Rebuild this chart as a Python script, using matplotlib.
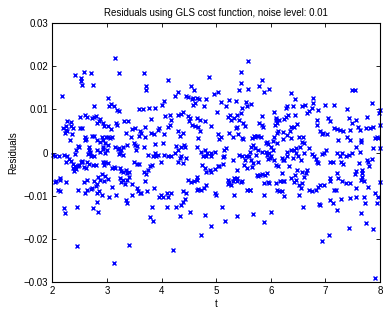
#!/usr/bin/env python3
import numpy as np
import matplotlib
matplotlib.use("Agg")
import matplotlib.pyplot as plt

plt.rcParams["font.family"] = ["Liberation Sans", "DejaVu Sans"]

title = "Residuals using GLS cost function, noise level: 0.01"
x_label = "t"
y_label = "Residuals"
x_ticks = [2, 3, 4, 5, 6, 7, 8]
y_ticks = [-0.03, -0.02, -0.01, 0, 0.01, 0.02, 0.03]
y_tick_labels = ["\u22120.03", "\u22120.02", "\u22120.01", "0", "0.01", "0.02", "0.03"]

# (t, residual * 1000), one list per unit of t
res_2_3 = [
    (2.18, 13.0), (2.41, 17.9), (2.57, 18.6), (2.52, 17.2), (2.53, 16.6), (2.55, 15.6),
    (2.71, 18.4), (2.74, 15.6), (2.77, 10.7), (2.51, 8.3), (2.59, 8.6), (2.63, 8.2),
    (2.51, 5.7), (2.54, 5.6), (2.27, 7.3), (2.34, 7.1), (2.24, 6.2), (2.20, 5.6),
    (2.25, 5.3), (2.34, 6.2), (2.35, 4.3), (2.32, 2.8), (2.23, 4.6), (2.72, 8.0),
    (2.76, 8.3), (2.79, 8.5), (2.85, 7.4), (2.88, 7.7), (2.92, 6.8), (2.82, 6.8),
    (2.95, 6.2), (2.60, 3.7), (2.62, 3.2), (2.59, 2.9), (2.73, 3.9), (2.81, 2.8),
    (2.46, 1.5), (2.48, 1.2), (2.43, 0.6), (2.41, -0.3), (2.90, 3.6), (2.93, 2.9),
    (2.98, 3.7), (2.87, 2.5), (2.96, 2.2), (2.92, 1.4), (2.67, 1.4), (2.67, 0.6),
    (2.69, 0.0), (2.65, -0.3), (2.71, -0.8), (2.77, -0.9), (2.82, 0.5), (2.88, 0.2),
    (2.93, 0.8), (2.96, -0.2), (2.01, -0.6), (2.05, -0.9), (2.12, -0.8), (2.27, -0.9),
    (2.31, -1.4), (2.34, -1.9), (2.25, -2.1), (2.38, -2.6), (2.41, -3.1), (2.37, -3.6),
    (2.40, -4.3), (2.43, -3.9), (2.46, -3.2), (2.48, -2.8), (2.52, -2.3), (2.55, -1.9),
    (2.57, -3.4), (2.61, -3.6), (2.64, -2.3), (2.67, -2.6), (2.75, -2.9), (2.93, -2.3),
    (2.95, -2.9), (2.91, -4.9), (2.96, -5.4), (2.95, -6.7), (2.84, -5.6), (2.88, -6.3),
    (2.76, -6.6), (2.64, -6.3), (2.58, -6.8), (2.04, -6.9), (2.07, -6.7), (2.13, -6.3),
    (2.14, -6.0), (2.10, -8.6), (2.14, -9.0), (2.46, -8.6), (2.59, -9.4), (2.63, -8.6),
    (2.70, -8.5), (2.79, -7.7), (2.82, -7.3), (2.85, -9.0), (2.91, -9.8), (2.81, -11.4),
    (2.82, -9.4), (2.45, -12.7), (2.21, -12.9), (2.23, -14.1), (2.74, -12.9),
    (2.84, -13.7), (2.45, -21.6),
    (2.37, 5.6), (2.27, 5.0), (2.76, 3.8), (2.21, -0.6), (2.68, 0.2), (2.55, -2.1),
    (2.79, -2.9), (2.24, -6.8), (2.73, -8.3),
]
res_3_4 = [
    (3.15, 21.9), (3.21, 18.4), (3.67, 18.4), (3.72, 15.4), (3.72, 14.5), (3.02, 12.6),
    (3.08, 11.2), (3.03, 10.7), (3.13, 10.7), (3.18, 9.9), (3.22, 9.6), (3.58, 10.0),
    (3.66, 10.0), (3.77, 10.3), (3.87, 10.3), (3.17, 6.8), (3.19, 6.3), (3.01, 6.2),
    (3.07, 5.4), (3.01, 3.7), (3.05, 3.4), (3.09, 3.6), (3.31, 7.3), (3.38, 7.2),
    (3.35, 4.5), (3.43, 3.7), (3.45, 5.4), (3.51, 5.6), (3.58, 3.9), (3.63, 4.5),
    (3.60, 5.1), (3.69, 6.0), (3.70, 3.5), (3.80, 7.8), (3.81, 4.6), (3.86, 4.3),
    (3.93, 5.3), (3.96, 5.7), (3.87, 2.0), (3.01, 1.8), (2.99, 0.6), (3.14, 1.4),
    (3.20, 0.8), (3.26, 0.6), (3.23, 0.0), (3.29, 1.4), (3.37, 1.7), (3.21, -0.3),
    (3.29, -0.6), (3.49, 2.2), (3.52, 1.8), (3.55, 1.5), (3.53, 0.6), (3.87, -0.2),
    (3.90, -0.9), (3.93, -0.6), (3.68, 1.2), (3.75, -0.6), (3.84, -0.9), (2.96, -2.1),
    (3.01, -2.5), (3.09, -3.6), (3.14, -3.6), (3.24, -3.6), (3.26, -4.2), (3.29, -4.4),
    (3.34, -4.0), (3.37, -4.8), (3.41, -4.4), (3.49, -2.2), (3.55, -2.6), (3.59, -2.6),
    (3.68, -4.6), (3.72, -4.9), (3.75, -4.0), (3.78, -3.2), (3.82, -2.9), (3.99, -2.2),
    (3.02, -6.2), (3.09, -7.9), (3.23, -5.9), (3.26, -6.9), (3.29, -6.3), (3.32, -7.3),
    (3.37, -6.3), (3.41, -5.6), (3.46, -7.3), (3.54, -8.3), (3.57, -9.0), (3.60, -9.3),
    (3.63, -9.3), (3.69, -6.7), (3.74, -9.0), (3.86, -8.3), (3.99, -9.8), (3.95, -10.2),
    (3.04, -10.2), (3.17, -9.8), (3.35, -11.0), (3.37, -11.7), (3.45, -9.8),
    (3.82, -12.7), (3.78, -15.0), (3.85, -15.8), (3.41, -21.4), (3.12, -25.5),
    (3.22, 1.0), (3.13, -3.4),
]
res_4_5 = [
    (4.12, 16.8), (4.01, 10.9), (4.04, 12.0), (4.04, 4.3), (4.07, 8.5), (4.15, 8.7),
    (4.18, 7.6), (4.12, 6.0), (4.15, 6.4), (4.02, 2.3), (4.05, -0.6), (4.12, -0.9),
    (4.18, -0.8), (4.02, -10.2), (4.09, -9.4), (4.12, -10.2), (4.18, -9.4),
    (4.09, -12.5), (4.21, -22.5),
    (4.87, 17.5), (4.54, 15.4), (4.60, 14.5), (4.30, 14.1), (4.24, 13.1), (4.44, 13.1),
    (4.48, 12.8), (4.55, 12.4), (4.58, 12.6), (4.64, 12.6), (4.69, 12.4), (4.82, 12.4),
    (4.57, 11.0), (4.61, 11.4), (4.77, 10.8), (4.96, 13.6), (4.30, 8.7), (4.36, 9.0),
    (4.39, 9.5), (4.48, 8.5), (4.52, 8.0), (4.64, 8.0), (4.70, 7.6), (4.50, 7.2),
    (4.56, 6.4), (4.61, 6.2), (4.67, 5.9), (4.79, 7.2), (4.70, 4.9), (4.67, 3.3),
    (4.30, 4.9), (4.33, 3.9), (4.40, 4.6), (4.91, 6.2), (4.27, 1.5), (4.35, 1.4),
    (4.41, 1.8), (4.43, 1.2), (4.30, 0.6), (4.24, -0.2), (4.33, -1.3), (4.36, -0.8),
    (4.30, -2.1), (4.39, -2.5), (4.45, -1.3), (4.65, 1.2), (4.73, 0.2), (4.79, 0.5),
    (4.84, 0.0), (4.91, 0.0), (4.97, 0.2), (4.90, -0.9), (4.82, -0.9), (4.76, -0.8),
    (4.74, -2.9), (4.79, -3.6), (4.82, -4.4), (4.88, -4.0), (4.91, -4.4), (4.97, -3.9),
    (4.65, -5.6), (4.64, -6.3), (4.48, -6.3), (4.54, -6.9), (4.59, -6.5), (4.67, -8.5),
    (4.73, -8.6), (4.77, -8.3), (4.82, -7.5), (4.64, -8.6), (4.39, -9.0), (4.45, -9.4),
    (4.42, -10.8), (4.97, -9.4), (4.27, -12.5), (4.35, -12.1), (4.39, -11.4),
    (4.52, -13.7), (4.33, -14.7), (4.79, -14.4), (4.90, -17.0), (4.72, -19.1),
]
res_5_6 = [
    (5.03, 14.1), (5.08, 11.6), (5.18, 10.8), (5.24, 12.2), (5.01, 9.5), (5.04, 4.3),
    (5.08, 3.7), (5.06, 3.1), (5.21, 8.3), (5.26, 8.6), (5.27, 7.6), (5.24, 4.5),
    (5.30, 3.7), (5.03, -3.2), (5.06, -3.1), (5.12, -1.1), (5.15, -0.8), (5.14, 0.6),
    (5.18, 1.0), (5.12, -2.6), (5.21, -6.3), (5.24, -6.9), (5.21, -7.3), (5.27, -7.5),
    (5.30, -6.7), (5.00, -9.8), (5.10, -12.5), (5.17, -15.8),
    (5.59, 21.2), (5.45, 18.6), (5.46, 16.1), (5.41, 14.5), (5.59, 14.7), (5.79, 15.3),
    (5.83, 16.7), (5.87, 14.1), (5.97, 14.7), (5.36, 12.0), (5.55, 11.8), (5.57, 10.7),
    (5.63, 11.3), (5.48, 10.3), (5.45, 9.1), (5.39, 8.7), (5.33, 8.0), (5.42, 7.6),
    (5.83, 8.5), (5.79, 6.9), (5.83, 6.4), (5.38, 6.0), (5.40, 4.3), (5.36, 5.6),
    (5.52, 6.2), (5.47, 3.3), (5.66, 3.3), (5.70, 3.9), (5.74, 3.9), (5.77, 3.9),
    (5.82, 3.6), (5.63, 1.4), (5.68, 1.8), (5.71, 1.0), (5.76, 0.6), (5.93, 2.5),
    (5.95, 1.9), (5.42, -0.5), (5.48, -0.8), (5.54, -0.9), (5.60, -0.9), (5.63, -1.7),
    (5.73, -0.5), (5.76, -2.1), (5.51, -2.9), (5.65, -3.4), (5.57, -3.6), (5.91, 0.2),
    (5.93, -0.5), (5.97, -0.2), (5.94, -1.5), (5.39, -4.0), (5.33, -5.9), (5.39, -6.7),
    (5.45, -6.9), (5.48, -6.5), (5.39, -5.9), (5.76, -5.4), (5.80, -5.2), (5.84, -4.9),
    (5.93, -4.8), (5.88, -7.1), (5.94, -6.9), (5.97, -7.1), (5.57, -8.6), (5.62, -8.6),
    (5.33, -9.8), (5.88, -9.8), (5.38, -14.8), (5.68, -14.2), (5.88, -16.1),
    (5.49, 6.8), (5.49, 3.1), (5.71, 3.7), (5.92, 2.1), (5.62, 0.2), (5.83, 0.2),
    (5.31, -1.7), (5.52, -1.7), (5.68, -2.5), (5.98, -1.2), (5.74, -5.2), (5.89, -5.2),
    (5.62, -8.7), (5.86, 6.0),
]
res_6_7 = [
    (6.37, 13.9), (6.06, 9.5), (6.09, 7.6), (6.12, 6.8), (6.15, 7.6), (6.24, 7.7),
    (6.27, 8.3), (6.30, 10.7), (6.27, 10.3), (6.37, 6.0), (6.00, 1.4), (6.06, 3.7),
    (6.12, 2.3), (6.14, 4.9), (6.11, 4.5), (6.23, 3.1), (6.30, 4.1), (6.37, 3.3),
    (6.00, -0.9), (6.06, -1.7), (6.09, -2.9), (6.13, -3.1), (6.21, -1.3), (6.24, -1.7),
    (6.30, -0.9), (6.37, 0.6), (6.40, -1.3), (6.34, -3.2), (6.09, -7.1), (6.17, -6.5),
    (6.20, -4.8), (6.24, -6.5), (6.37, -5.9), (6.11, -8.6), (6.15, -9.0), (6.24, -10.0),
    (6.01, -13.7),
    (6.45, 12.4), (6.41, 10.7), (6.57, 10.7), (6.62, 11.0), (6.77, 12.7), (6.77, 11.4),
    (6.70, 9.7), (6.66, 9.1), (6.75, 10.3), (6.87, 9.9), (6.45, 8.7), (6.48, 6.6),
    (6.42, 6.0), (6.51, 3.7), (6.57, 2.5), (6.60, 2.2), (6.54, 1.4), (6.85, 7.6),
    (6.84, 6.4), (6.90, 4.9), (6.93, 4.3), (6.96, 4.6), (6.43, 0.6), (6.47, -0.2),
    (6.49, -0.9), (6.60, -0.2), (6.70, 1.0), (6.76, -0.3), (6.80, -0.9), (6.82, -1.5),
    (6.85, -2.1), (6.87, -2.5), (6.94, -0.3), (6.97, 0.0), (6.45, -5.2), (6.48, -4.0),
    (6.57, -4.4), (6.60, -5.6), (6.65, -4.8), (6.66, -4.0), (6.42, -6.9), (6.51, -7.5),
    (6.57, -7.1), (6.70, -8.6), (6.76, -9.0), (6.82, -8.6), (6.87, -7.9), (6.91, -7.5),
    (6.97, -7.5), (6.51, -9.8), (6.59, -12.7), (6.88, -11.9), (6.91, -12.1),
    (6.94, -20.6),
    (6.10, 7.9), (6.32, 8.7), (6.07, 6.4), (6.23, 4.8), (6.35, 5.1), (6.04, 2.6),
    (6.59, 3.7), (6.04, 0.6), (6.29, 0.2), (6.47, 1.0), (6.23, -1.7), (6.56, -1.7),
    (6.23, -6.7), (6.47, -6.4), (6.20, -9.0), (6.56, -8.3),
]
res_7_8 = [
    (7.49, 14.5), (7.00, 11.0), (7.15, 10.9), (7.40, 10.0), (7.43, 8.0), (7.49, 6.8),
    (7.03, 4.3), (7.04, 8.0), (7.08, 7.2), (7.15, 5.6), (7.21, 5.4), (7.27, 5.3),
    (7.32, 5.1), (7.24, 2.9), (7.40, 3.7), (7.46, 2.9), (7.46, 5.3), (7.02, 0.6),
    (7.09, -2.3), (7.14, -2.1), (7.21, -0.2), (7.26, -0.9), (7.30, -0.2), (7.29, -2.1),
    (7.32, -2.6), (7.37, -0.9), (7.43, -0.5), (7.49, -0.2), (7.09, -5.9), (7.09, -6.7),
    (7.21, -4.8), (7.23, -5.9), (7.30, -6.7), (7.37, -7.1), (7.46, -7.1), (7.15, -8.6),
    (7.20, -8.6), (7.09, -11.0), (7.14, -11.7), (7.29, -10.8), (7.21, -13.4),
    (7.45, -10.6), (7.43, -17.5), (7.06, -19.1),
    (7.54, 14.5), (7.85, 11.4), (7.76, 8.3), (8.00, 9.9), (7.99, 9.1), (8.00, 6.4),
    (7.57, 7.6), (7.60, 6.0), (7.63, 5.3), (7.66, 2.9), (7.65, 2.5), (7.74, 5.6),
    (7.82, 5.6), (7.87, 5.9), (7.91, 3.3), (7.94, 3.7), (7.97, 3.3), (8.00, 1.0),
    (7.88, 1.0), (7.56, 1.4), (7.63, 0.2), (7.62, -2.5), (7.77, -1.7), (7.79, -2.3),
    (7.85, -1.5), (7.80, -3.2), (7.57, -4.2), (7.55, -4.9), (7.68, -4.0), (7.68, -4.8),
    (7.68, -5.6), (7.66, -6.3), (7.71, -6.7), (7.79, -7.9), (7.57, -8.3), (7.57, -10.2),
    (7.71, -10.2), (7.73, -11.6), (7.91, -9.4), (7.97, -10.2), (8.00, -6.9),
    (7.94, -11.7), (7.66, -14.1), (7.74, -16.4), (7.88, -17.7), (7.91, -29.1),
]


def main():
    pts = np.array(res_2_3 + res_3_4 + res_4_5 + res_5_6 + res_6_7 + res_7_8)
    t = pts[:, 0]
    resid = pts[:, 1] / 1000.0

    fig = plt.figure(figsize=(3.83, 3.11), dpi=100)
    ax = fig.add_axes([0.137, 0.093, 0.855, 0.833])
    ax.plot(t, resid, "x", color="#0000ff", markersize=3.3, markeredgewidth=1.0,
            clip_on=False)

    ax.set_xlim(2, 8)
    ax.set_ylim(-0.03, 0.03)
    ax.set_xticks(x_ticks)
    ax.set_yticks(y_ticks)
    ax.set_yticklabels(y_tick_labels)
    ax.tick_params(direction="in", length=3, width=0.6, labelsize=7,
                   top=True, right=True, pad=3)
    for s in ax.spines.values():
        s.set_linewidth(0.8)

    ax.set_title(title, fontsize=7, pad=5)
    ax.set_xlabel(x_label, fontsize=7, labelpad=2)
    ax.set_ylabel(y_label, fontsize=7, labelpad=4)

    fig.savefig("out.png", dpi=100)


if __name__ == "__main__":
    main()
